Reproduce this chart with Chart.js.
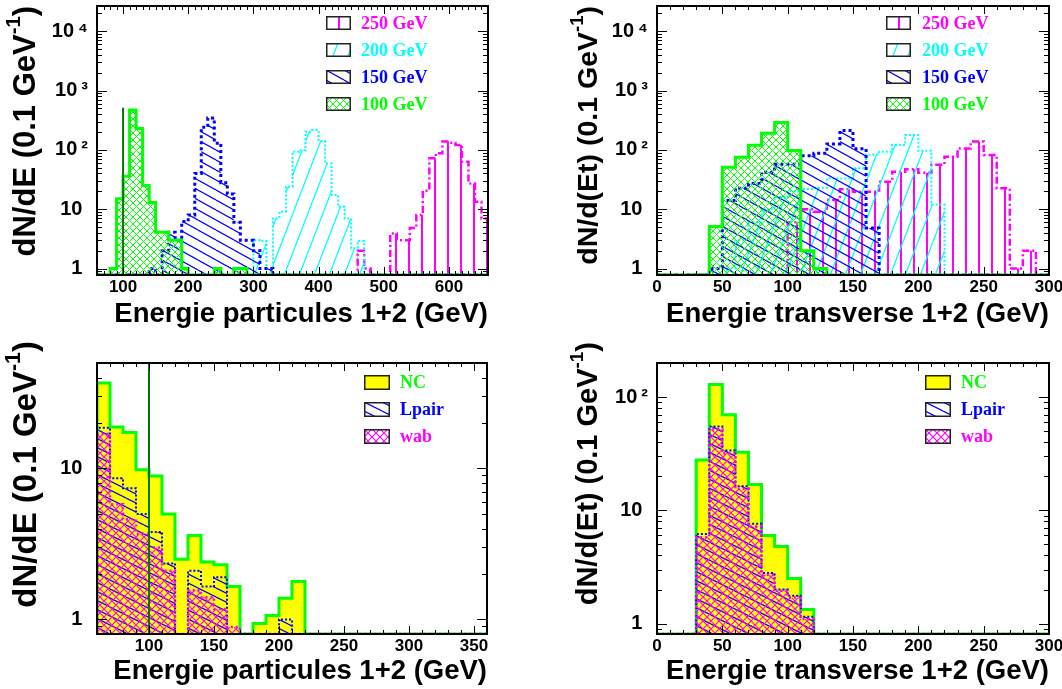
<!DOCTYPE html>
<html>
<head>
<meta charset="utf-8">
<script src="https://cdn.jsdelivr.net/npm/chart.js@4.4.1/dist/chart.umd.min.js"></script>
<style>
html,body{margin:0;padding:0;background:#fff;}
body{width:1062px;height:689px;position:relative;overflow:hidden;font-family:"Liberation Sans",Arial,Helvetica,sans-serif;}
canvas.plot{position:absolute;}
.xt{position:absolute;font-weight:bold;font-size:27.5px;line-height:30px;white-space:nowrap;text-align:right;color:#000;}
.yt{position:absolute;font-weight:bold;font-size:29px;line-height:34px;width:320px;white-space:nowrap;text-align:right;color:#000;transform-origin:0 0;transform:rotate(-90deg);}
.yt sup{font-size:0.65em;line-height:0;vertical-align:0.75em;}
.lgrow{position:absolute;height:22px;width:150px;}
.lgrow canvas{position:absolute;left:0;}
.lgrow span{position:absolute;white-space:nowrap;font-family:"Liberation Serif","Times New Roman",serif;font-weight:bold;font-size:18px;line-height:22px;top:0;}
</style>
</head>
<body>
<canvas class="plot" id="cTL" width="531" height="345" style="left:0;top:0"></canvas>
<canvas class="plot" id="cTR" width="531" height="345" style="left:531px;top:0"></canvas>
<canvas class="plot" id="cBL" width="531" height="344" style="left:0;top:345px"></canvas>
<canvas class="plot" id="cBR" width="531" height="344" style="left:531px;top:345px"></canvas>

<div class="xt" style="left:0;width:488px;top:298px">Energie particules 1+2 (GeV)</div>
<div class="xt" style="left:531px;width:518px;top:298px">Energie transverse 1+2 (GeV)</div>
<div class="xt" style="left:0;width:487px;top:655px">Energie particules 1+2 (GeV)</div>
<div class="xt" style="left:531px;width:518px;top:655px">Energie transverse 1+2 (GeV)</div>

<div class="yt" style="left:7px;top:326px;font-size:31px;line-height:36px">dN/dE (0.1 GeV<sup>-1</sup>)</div>
<div class="yt" style="left:570px;top:326px;font-size:28.5px">dN/d(Et) (0.1 GeV<sup>-1</sup>)</div>
<div class="yt" style="left:6px;top:661px;font-size:33px;line-height:38px">dN/dE (0.1 GeV<sup>-1</sup>)</div>
<div class="yt" style="left:570px;top:662px;font-size:29px">dN/d(Et) (0.1 GeV<sup>-1</sup>)</div>

<script>
// ===================== DATA =====================
const binWidth = 10; // GeV per bin

// Top-left: energy of particles 1+2, generated masses
const tlXRange = [60, 660];
const tlYRange = [0.777, 26700];
const tlXLabels = [100, 200, 300, 400, 500, 600];
const e100Start = 80;
const e100 = [1, 15, 36, 470, 230, 25, 13, 4.1, 4.1, 3, 3, 1, 0, 0, 0, 0, 1, 0, 0, 1, 1];
const e150Start = 140;
const e150 = [1, 0, 2, 4.1, 3, 6.2, 8, 40, 240, 345, 130, 28, 18, 6, 3, 3, 2, 1, 1];
const e200Start = 300;
const e200 = [3, 2.9, 1, 7, 9.1, 24, 93, 99, 203, 216, 141, 59, 17.4, 11, 7, 2.2, 2.9];
const e250Start = 460;
const e250 = [2, 1, 0, 0, 0, 3.9, 3, 3, 4.8, 8, 20.5, 72, 88, 138, 132, 121, 63, 27, 13.4, 7];
const markE = 100, markETop = 515;

// Top-right: transverse energy, generated masses
const trXRange = [0, 300];
const trYRange = [0.777, 26700];
const trXLabels = [0, 50, 100, 150, 200, 250, 300];
const t100Start = 40;
const t100 = [5.1, 51, 75, 120, 190, 290, 98, 2, 1];
const t150Start = 40;
const t150 = [1, 14, 22.6, 27, 42, 57, 57, 80, 88, 126, 212, 105, 4.8];
const t200Start = 50;
const t200 = [1, 3, 6, 10, 16, 20, 22, 23, 33, 33, 49, 84, 93, 121, 178, 97, 12];
const t250Start = 100;
const t250 = [6, 10, 9.1, 14.3, 21.6, 19.7, 19.7, 29, 43, 47, 41, 56, 77, 106, 138, 82, 22.5, 1, 2];

// Bottom-left: energy, backgrounds
const blXRange = [60, 360];
const blYRange = [0.8, 50];
const blXLabels = [100, 150, 200, 250, 300, 350];
const ncStart = 60;
const nc = [36.9, 18.8, 17.3, 9.8, 8.9, 5, 2.5, 3.6, 2.4, 2.3, 1.65, 0, 0.94, 1.06, 1.38, 1.78];
const lpStart = 60;
const lp = [18.6, 8.6, 7.4, 5, 3.8, 2.35, 0, 2.1, 1.65, 1.9, 0, 0, 0, 0, 1.0];
const wabStart = 60;
const wab = [17, 5.8, 4.6, 3.7, 3.0, 2.1, 0, 1.56, 1.4, 1.17, 0.89];
const markB = 100;

// Bottom-right: transverse energy, backgrounds
const brXRange = [0, 300];
const brYRange = [0.81, 200];
const brXLabels = [0, 50, 100, 150, 200, 250, 300];
const nc2Start = 30;
const nc2 = [27.9, 129, 70, 32.6, 16.9, 6, 4.8, 2.5, 1.33];
const lp2Start = 30;
const lp2 = [6.2, 55, 33.7, 16.3, 7.6, 2.8, 2.0, 1.76, 1.15];
const wab2Start = 30;
const wab2 = [5.8, 52, 32, 15.5, 7.2, 2.7, 1.95, 1.7, 1.1];

const massLabels = ['250 GeV', '200 GeV', '150 GeV', '100 GeV'];
const bgLabels = ['NC', 'Lpair', 'wab'];
const yTickText = {1: '1 ', 10: '10 ', 100: '10\u2009\u00B2', 1000: '10\u2009\u00B3', 10000: '10\u2009\u2074'};

// ===================== STYLE =====================
const FONT = "'Liberation Sans', Arial, Helvetica, sans-serif";
const GREEN = '#00ff00', BLUE = '#0000ff', CYAN = '#00ffff', MAGENTA = '#ff00ff', YELLOW = '#ffff00', DKGREEN = '#007800';

function makeTile(w, h, draw) {
  const c = document.createElement('canvas');
  c.width = w; c.height = h;
  const g = c.getContext('2d');
  draw(g, w, h);
  return g.createPattern(c, 'repeat');
}
function vertLines(color) {
  return makeTile(13, 4, (g) => { g.fillStyle = color; g.fillRect(5, 0, 2, 4); });
}
function slashLines(color, w, h, lw) {
  return makeTile(w, h, (g) => {
    g.strokeStyle = color; g.lineWidth = lw; g.beginPath();
    for (let k = -1; k <= 1; k++) { g.moveTo(k * w, h); g.lineTo(k * w + w, 0); }
    g.stroke();
  });
}
function backLines(color, w, h, lw) {
  return makeTile(w, h, (g) => {
    g.strokeStyle = color; g.lineWidth = lw; g.beginPath();
    for (let k = -1; k <= 1; k++) { g.moveTo(0, k * h); g.lineTo(w, k * h + h); }
    g.stroke();
  });
}
function crossLines(color, s, lw) {
  return makeTile(s, s, (g) => {
    g.strokeStyle = color; g.lineWidth = lw; g.beginPath();
    g.moveTo(-1, -1); g.lineTo(s + 1, s + 1);
    g.moveTo(-1, s + 1); g.lineTo(s + 1, -1);
    g.stroke();
  });
}
const patMag = vertLines(MAGENTA);
const patCyan = slashLines(CYAN, 15, 39, 1.3);
const patBlue = backLines(BLUE, 18, 10, 1.2);
const patGreen = crossLines(GREEN, 7, 1);
const patBlue2 = backLines(BLUE, 18, 9, 1.2);
const patMag2 = crossLines(MAGENTA, 8, 1.2);

const S250 = {borderColor: MAGENTA, borderWidth: 2.5, borderDash: [7, 3, 2, 3], backgroundColor: patMag};
const S200 = {borderColor: CYAN, borderWidth: 2, borderDash: [2, 2], backgroundColor: patCyan};
const S150 = {borderColor: BLUE, borderWidth: 3, borderDash: [3, 3], backgroundColor: patBlue};
const S100 = {borderColor: GREEN, borderWidth: 3, backgroundColor: patGreen};
const SNC = {borderColor: GREEN, borderWidth: 3, backgroundColor: YELLOW};
const SLP = {borderColor: BLUE, borderWidth: 2, borderDash: [2, 2], backgroundColor: patBlue2};
const SWAB = {borderColor: MAGENTA, borderWidth: 2.5, borderDash: [2, 3], backgroundColor: patMag2};

// ===================== BUILD =====================
function histPoints(start, vals, xr, floor) {
  const pts = [{x: xr[0], y: floor}, {x: start, y: floor}];
  vals.forEach((v, i) => pts.push({x: start + i * binWidth, y: v > 0 ? v : floor}));
  pts.push({x: start + vals.length * binWidth, y: floor});
  pts.push({x: xr[1], y: floor});
  return pts;
}
function histSet(label, start, vals, xr, yr, style, order) {
  return Object.assign({label, order, data: histPoints(start, vals, xr, yr[0]), stepped: 'before',
    fill: 'start', pointRadius: 0, borderJoinStyle: 'miter'}, style);
}
function markerSet(x, y0, y1) {
  return {label: 'mark', order: 0, data: [{x: x, y: y0}, {x: x, y: y1}], borderColor: DKGREEN,
    borderWidth: 2, fill: false, pointRadius: 0};
}
function logTicks(yr) {
  const t = [];
  for (let e = Math.floor(Math.log10(yr[0])); e <= Math.ceil(Math.log10(yr[1])); e++) {
    for (let m = 1; m <= 9; m++) {
      const v = e >= 0 ? m * Math.pow(10, e) : m / Math.pow(10, -e);
      if (v >= yr[0] - 1e-12 && v <= yr[1] + 1e-9) t.push(v);
    }
  }
  return t;
}
function framePlugin(o) {
  return {
    id: 'frame',
    afterDatasetsDraw(chart) {
      const ctx = chart.ctx, a = chart.chartArea, xs = chart.scales.x, ys = chart.scales.y;
      ctx.save();
      ctx.strokeStyle = '#000'; ctx.lineWidth = 1; ctx.beginPath();
      xs.ticks.forEach(t => {
        const p = Math.round(xs.getPixelForValue(t.value)) + 0.5;
        const L = (Math.round(t.value) % o.xMajor === 0) ? 8 : 4;
        ctx.moveTo(p, a.bottom); ctx.lineTo(p, a.bottom - L);
        ctx.moveTo(p, a.top); ctx.lineTo(p, a.top + L);
      });
      ys.ticks.forEach(t => {
        const p = Math.round(ys.getPixelForValue(t.value)) + 0.5;
        const lg = Math.log10(t.value);
        const L = Math.abs(lg - Math.round(lg)) < 1e-6 ? 10 : 5;
        ctx.moveTo(a.left, p); ctx.lineTo(a.left + L, p);
        ctx.moveTo(a.right, p); ctx.lineTo(a.right - L, p);
      });
      ctx.stroke();
      ctx.lineWidth = 2;
      ctx.strokeRect(a.left, a.top, a.right - a.left, a.bottom - a.top);
      ctx.restore();
    }
  };
}
function buildChart(id, o) {
  return new Chart(document.getElementById(id), {
    type: 'line',
    data: {datasets: o.datasets},
    options: {
      responsive: false, animation: false, devicePixelRatio: 1,
      layout: {padding: {left: 0, top: o.padTop, right: o.padRight, bottom: 0}},
      plugins: {legend: {display: false}, tooltip: {enabled: false}},
      scales: {
        x: {
          type: 'linear', min: o.xr[0], max: o.xr[1],
          grid: {display: false, drawTicks: false}, border: {display: false},
          ticks: {autoSkip: false, maxRotation: 0, minRotation: 0, padding: 2, color: '#000',
            font: {family: FONT, weight: 'bold', size: 17},
            callback: (v) => o.xLabels.includes(Math.round(v)) ? String(Math.round(v)) : ''},
          afterBuildTicks: (s) => {
            const t = [];
            for (let v = o.xr[0]; v <= o.xr[1] + 1e-9; v += o.xMinor) t.push({value: v});
            s.ticks = t;
          },
          afterFit: (s) => { s.height = o.xH; s.paddingLeft = 0; s.paddingRight = 0; }
        },
        y: {
          type: 'logarithmic', min: o.yr[0], max: o.yr[1],
          grid: {display: false, drawTicks: false}, border: {display: false},
          ticks: {autoSkip: false, padding: 9, color: '#000',
            font: {family: FONT, weight: 'bold', size: 20},
            callback: (v) => yTickText[Math.round(v)] && Math.abs(v - Math.round(v)) < 1e-9 ? yTickText[Math.round(v)] : ''},
          afterBuildTicks: (s) => { s.ticks = logTicks(o.yr).map(v => ({value: v})); },
          afterFit: (s) => { s.width = o.yW; s.paddingTop = 0; s.paddingBottom = 0; }
        }
      }
    },
    plugins: [framePlugin(o)]
  });
}

buildChart('cTL', {
  xr: tlXRange, yr: tlYRange, xLabels: tlXLabels, xMinor: 10, xMajor: 100,
  padTop: 6, padRight: 43, xH: 70, yW: 97,
  datasets: [
    markerSet(markE, tlYRange[0], markETop),
    histSet(massLabels[3], e100Start, e100, tlXRange, tlYRange, S100, 1),
    histSet(massLabels[2], e150Start, e150, tlXRange, tlYRange, S150, 2),
    histSet(massLabels[1], e200Start, e200, tlXRange, tlYRange, S200, 3),
    histSet(massLabels[0], e250Start, e250, tlXRange, tlYRange, S250, 4)
  ]
});
buildChart('cTR', {
  xr: trXRange, yr: trYRange, xLabels: trXLabels, xMinor: 10, xMajor: 50,
  padTop: 6, padRight: 13, xH: 70, yW: 126,
  datasets: [
    histSet(massLabels[3], t100Start, t100, trXRange, trYRange, S100, 1),
    histSet(massLabels[2], t150Start, t150, trXRange, trYRange, S150, 2),
    histSet(massLabels[1], t200Start, t200, trXRange, trYRange, S200, 3),
    histSet(massLabels[0], t250Start, t250, trXRange, trYRange, S250, 4)
  ]
});
buildChart('cBL', {
  xr: blXRange, yr: blYRange, xLabels: blXLabels, xMinor: 10, xMajor: 50,
  padTop: 18, padRight: 44, xH: 55, yW: 97,
  datasets: [
    markerSet(markB, blYRange[0], blYRange[1]),
    histSet(bgLabels[2], wabStart, wab, blXRange, blYRange, SWAB, 1),
    histSet(bgLabels[1], lpStart, lp, blXRange, blYRange, SLP, 2),
    histSet(bgLabels[0], ncStart, nc, blXRange, blYRange, SNC, 3)
  ]
});
buildChart('cBR', {
  xr: brXRange, yr: brYRange, xLabels: brXLabels, xMinor: 10, xMajor: 50,
  padTop: 18, padRight: 13, xH: 55, yW: 126,
  datasets: [
    histSet(bgLabels[2], wab2Start, wab2, brXRange, brYRange, SWAB, 1),
    histSet(bgLabels[1], lp2Start, lp2, brXRange, brYRange, SLP, 2),
    histSet(bgLabels[0], nc2Start, nc2, brXRange, brYRange, SNC, 3)
  ]
});

// ===================== LEGENDS =====================
function legend(x, rowsY, entries, sw, sh, textOff) {
  entries.forEach((e, i) => {
    const row = document.createElement('div');
    row.className = 'lgrow';
    row.style.left = x + 'px';
    row.style.top = (rowsY[i] - 11) + 'px';
    const c = document.createElement('canvas');
    c.width = sw; c.height = sh;
    c.style.top = (11 - sh / 2) + 'px';
    const g = c.getContext('2d');
    g.fillStyle = '#fff'; g.fillRect(0, 0, sw, sh);
    g.save(); g.translate(e.shift || 0, 0);
    g.fillStyle = e.fill; g.fillRect(-20, 0, sw + 40, sh);
    g.restore();
    g.strokeStyle = '#222'; g.lineWidth = 1.5; g.strokeRect(0.75, 0.75, sw - 1.5, sh - 1.5);
    row.appendChild(c);
    const s = document.createElement('span');
    s.textContent = e.label; s.style.color = e.color; s.style.left = textOff + 'px';
    row.appendChild(s);
    document.body.appendChild(row);
  });
}
const massEntries = [
  {label: massLabels[0], color: MAGENTA, fill: patMag, shift: 7},
  {label: massLabels[1], color: CYAN, fill: patCyan, shift: -3},
  {label: massLabels[2], color: BLUE, fill: patBlue},
  {label: massLabels[3], color: GREEN, fill: patGreen}
];
const bgEntries = [
  {label: bgLabels[0], color: GREEN, fill: YELLOW},
  {label: bgLabels[1], color: BLUE, fill: patBlue2},
  {label: bgLabels[2], color: MAGENTA, fill: patMag2}
];
legend(326, [22.7, 50, 77, 104], massEntries, 25, 14, 35);
legend(886, [22.7, 50, 77, 104], massEntries, 25, 14, 36);
legend(364, [382, 409, 436], bgEntries, 26, 15, 36);
legend(925, [382, 409, 436], bgEntries, 26, 15, 36);
</script>
</body>
</html>
